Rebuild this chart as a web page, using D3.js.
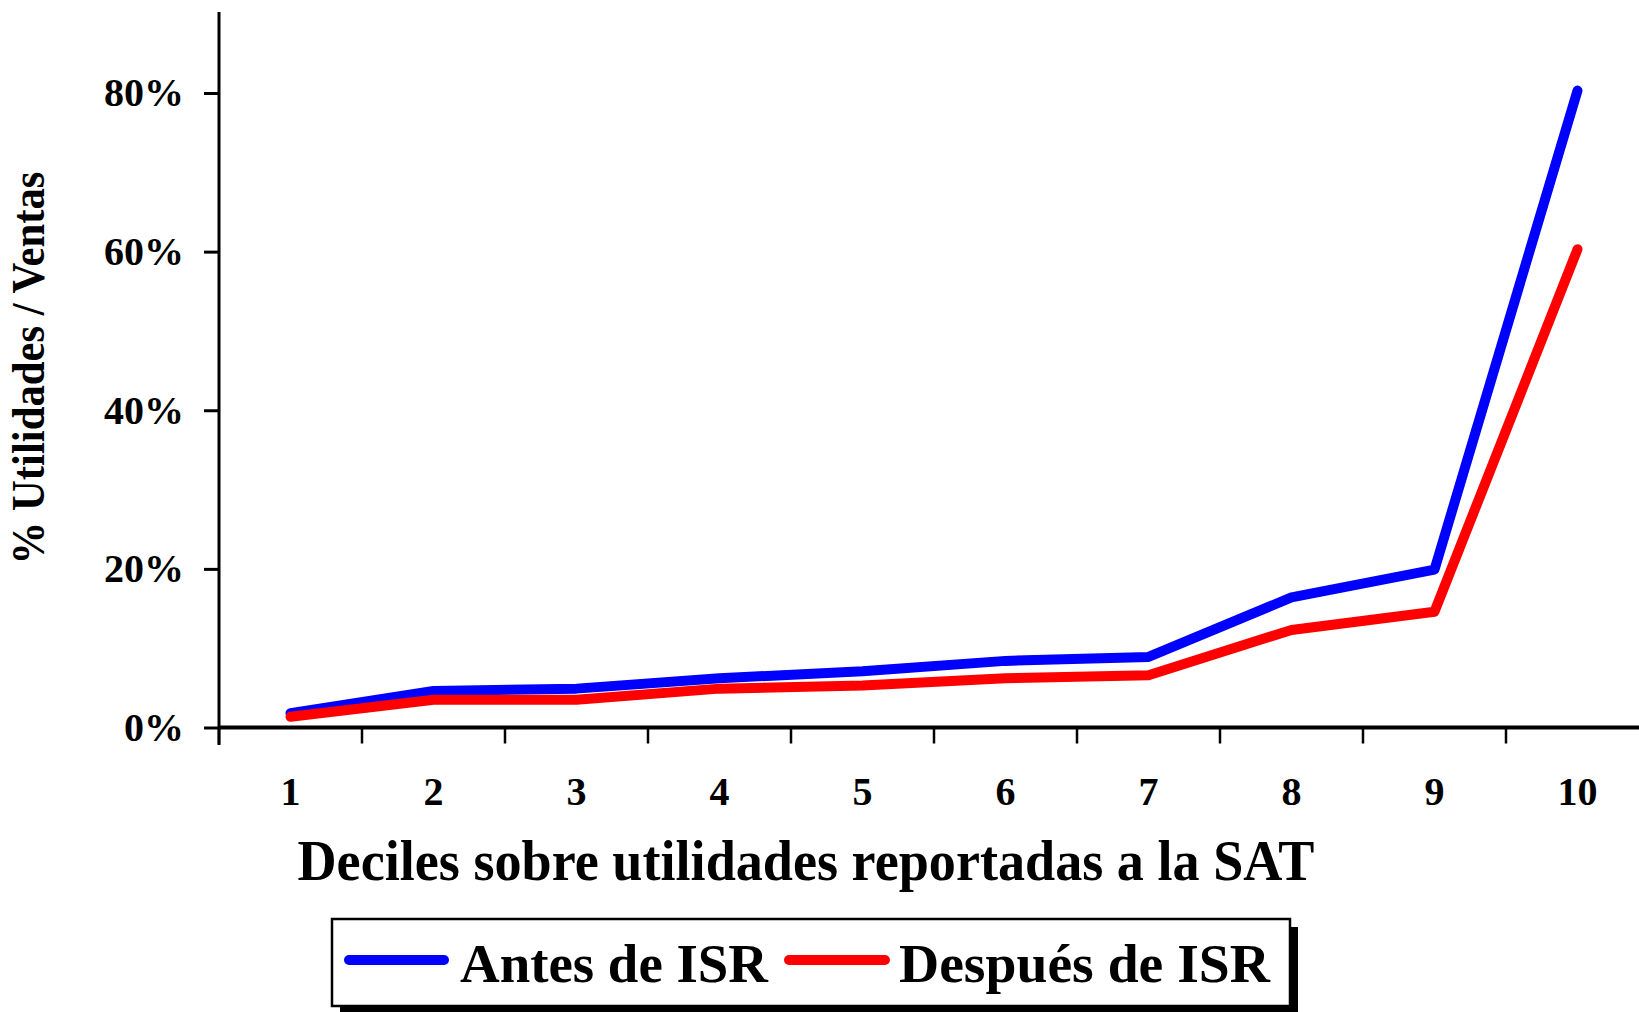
<!DOCTYPE html>
<html>
<head>
<meta charset="utf-8">
<script src="https://cdn.jsdelivr.net/npm/d3@7"></script>
<style>
  body { margin: 0; background: #fff; }
  svg { display: block; font-family: "Liberation Serif", "Times New Roman", serif; font-weight: bold; }
</style>
</head>
<body>
<svg></svg>
<script>
const width = 1639;
const height = 1012;

// deciles and series values (% utilidades / ventas)
const deciles = ["1", "2", "3", "4", "5", "6", "7", "8", "9", "10"];
const antes = [1.8, 4.6, 4.9, 6.2, 7.1, 8.4, 8.9, 16.4, 19.9, 80.3];
const despues = [1.35, 3.5, 3.5, 4.9, 5.3, 6.2, 6.6, 12.3, 14.6, 60.3];
const yTicks = [0, 20, 40, 60, 80];
const seriesNames = ["Antes de ISR", "Después de ISR"];
const seriesColors = ["#0000ff", "#ff0000"];

const svg = d3.select("svg")
    .attr("width", width)
    .attr("height", height);

// plot area (runs off the right edge like the original)
const x = d3.scaleBand()
    .domain(deciles)
    .range([219, 219 + 143 * 10]);

const y = d3.scaleLinear()
    .domain([0, 80])
    .range([727.5, 93]);

const line = d3.line()
    .x((d, i) => x(deciles[i]) + x.bandwidth() / 2)
    .y(d => y(d));

// y axis
const yAxis = svg.append("g")
    .attr("transform", `translate(${x.range()[0]},0)`)
    .call(d3.axisLeft(y).tickValues(yTicks).tickSize(15).tickPadding(20).tickFormat(d => d + "%"));
yAxis.select(".domain").remove();
yAxis.append("line")
    .attr("x1", 0).attr("x2", 0)
    .attr("y1", 12).attr("y2", 745)
    .attr("stroke", "#000").attr("stroke-width", 3);
yAxis.selectAll(".tick line").attr("stroke-width", 3);
yAxis.selectAll(".tick text")
    .attr("font-size", 40)
    .attr("font-family", "Liberation Serif, serif")
    .attr("font-weight", "bold")
    .attr("fill", "#000");

// x axis
const xAxis = svg.append("g")
    .attr("transform", `translate(0,${y(0)})`)
    .call(d3.axisBottom(x).tickSize(0).tickPadding(0));
xAxis.select(".domain").remove();
xAxis.append("line")
    .attr("x1", x.range()[0]).attr("x2", width)
    .attr("y1", 0).attr("y2", 0)
    .attr("stroke", "#000").attr("stroke-width", 4);
xAxis.selectAll(".bound")
    .data(deciles)
    .enter().append("line")
    .attr("x1", d => x(d)).attr("x2", d => x(d))
    .attr("y1", 0).attr("y2", 16)
    .attr("stroke", "#000").attr("stroke-width", 2.5);
xAxis.selectAll(".tick text")
    .attr("y", 77)
    .attr("dy", 0)
    .attr("font-size", 40)
    .attr("font-family", "Liberation Serif, serif")
    .attr("font-weight", "bold")
    .attr("fill", "#000");

// axis titles
svg.append("text")
    .attr("x", 806)
    .attr("y", 880)
    .attr("text-anchor", "middle")
    .attr("font-size", 56)
    .attr("textLength", 1017)
    .attr("lengthAdjust", "spacingAndGlyphs")
    .text("Deciles sobre utilidades reportadas a la SAT");

svg.append("text")
    .attr("transform", "translate(44,368) rotate(-90)")
    .attr("text-anchor", "middle")
    .attr("font-size", 46)
    .attr("textLength", 393)
    .attr("lengthAdjust", "spacingAndGlyphs")
    .text("% Utilidades / Ventas");

// lines
[antes, despues].forEach((s, i) => {
  svg.append("path")
      .datum(s)
      .attr("fill", "none")
      .attr("stroke", seriesColors[i])
      .attr("stroke-width", 10)
      .attr("stroke-linecap", "round")
      .attr("stroke-linejoin", "round")
      .attr("d", line);
});

// legend
const legend = svg.append("g");
legend.append("rect")
    .attr("x", 340).attr("y", 927)
    .attr("width", 958).attr("height", 87)
    .attr("fill", "#000");
legend.append("rect")
    .attr("x", 332).attr("y", 919)
    .attr("width", 958).attr("height", 87)
    .attr("fill", "#fff")
    .attr("stroke", "#000")
    .attr("stroke-width", 2.5);

const legendItems = [
  {lx1: 349, lx2: 444, tx: 460, tw: 308},
  {lx1: 789, lx2: 885, tx: 899, tw: 371}
];
legendItems.forEach((it, i) => {
  legend.append("line")
      .attr("x1", it.lx1).attr("x2", it.lx2)
      .attr("y1", 960).attr("y2", 960)
      .attr("stroke", seriesColors[i])
      .attr("stroke-width", 10)
      .attr("stroke-linecap", "round");
  legend.append("text")
      .attr("x", it.tx)
      .attr("y", 982)
      .attr("font-size", 54)
      .attr("textLength", it.tw)
      .attr("lengthAdjust", "spacingAndGlyphs")
      .text(seriesNames[i]);
});
</script>
</body>
</html>
